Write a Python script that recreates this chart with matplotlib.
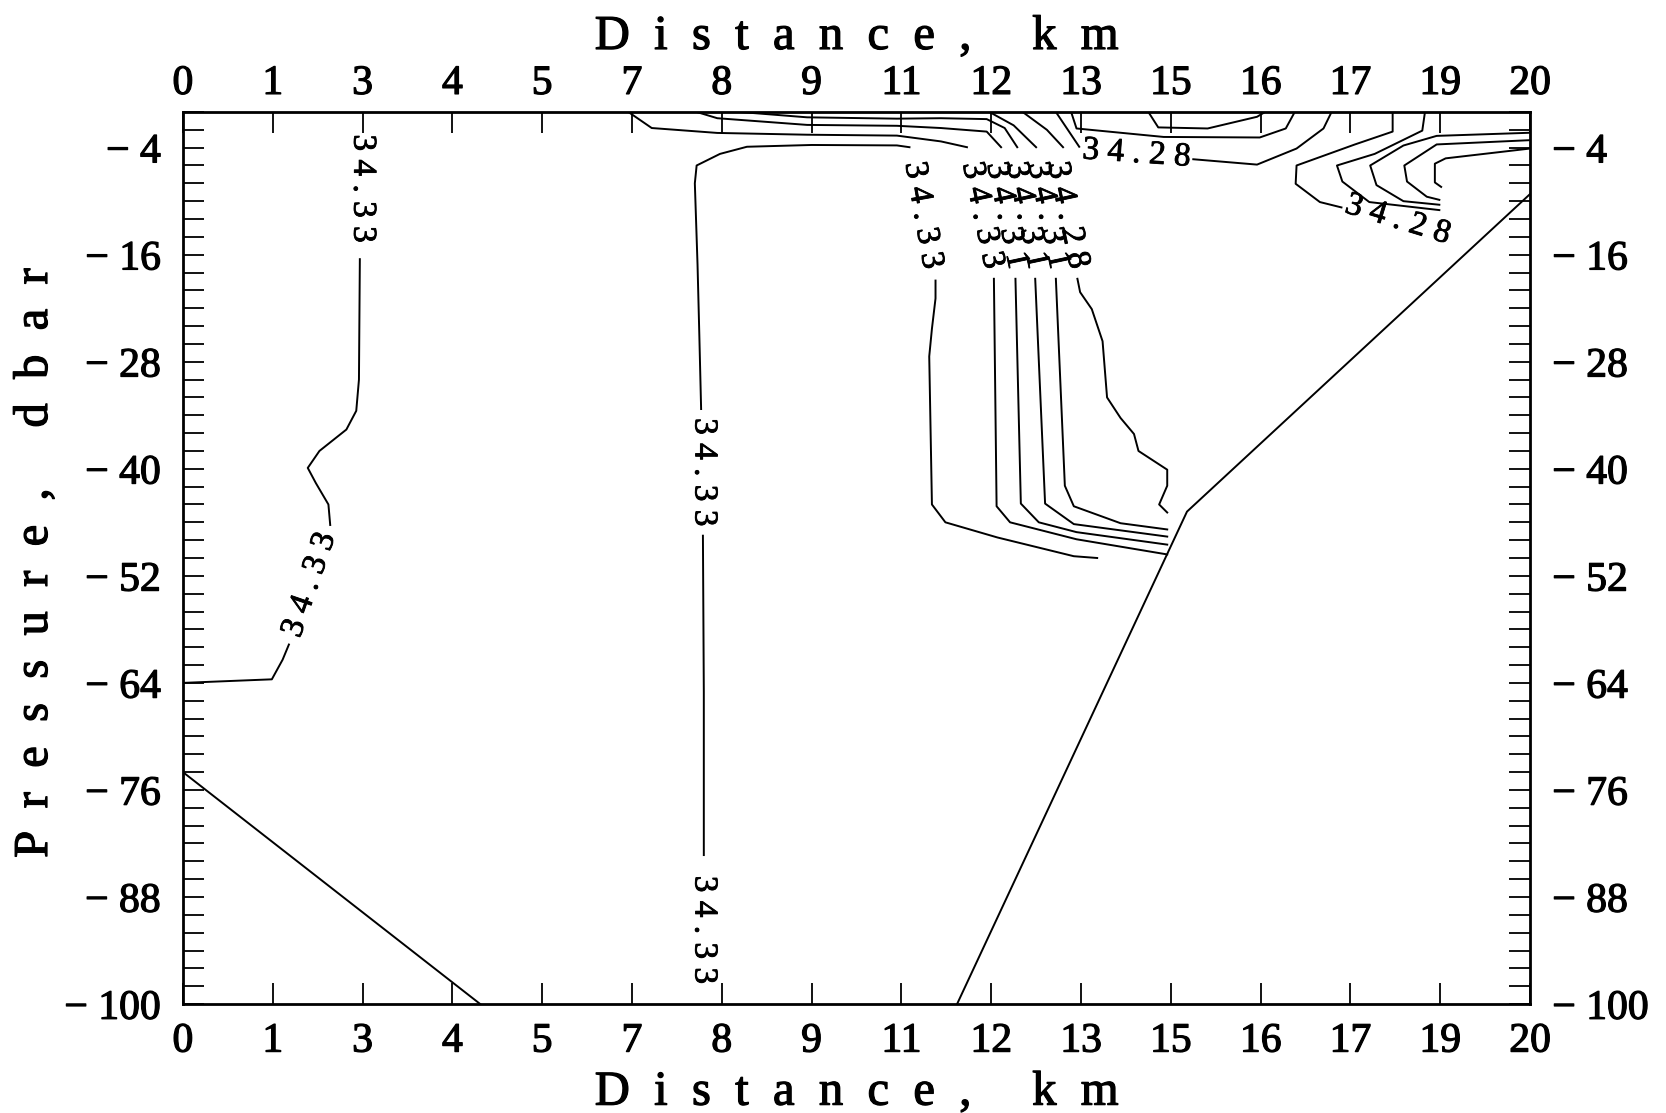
import numpy             as np
import matplotlib
matplotlib.use('Agg')
import matplotlib.pyplot     as plt
import matplotlib.patheffects as pe

from matplotlib.ticker import FixedLocator, MultipleLocator

FIG_SIZE    = (16.66, 11.13)
DPI         = 100
FONT        = 'Liberation Serif'
LINE_W      = 1.4
TICK_SIZE   = 30
LABEL_SIZE  = 35
CLABEL_SIZE = 24
nan         = np.nan
HEAVY       = [pe.withStroke(linewidth = 0.9, foreground = 'black')]

############################
# Axes data
############################
stationLabels  = ['0', '1', '3', '4', '5', '7', '8', '9', '11', '12', '13', '15', '16', '17', '19', '20']
pressureTicks  = [-4, -16, -28, -40, -52, -64, -76, -88, -100]

############################
# Bottom profile (station index, dbar)
############################
bottomLeftX  = [0.0, 3.31]
bottomLeftP  = [-74.0, -100.0]
bottomRightX = [8.62, 11.18, 15.0]
bottomRightP = [-100.0, -44.8, -9.2]

############################
# Salinity isolines (station index, dbar), nan = gap for a label
############################
west33X = [1.97, 1.96, 1.93, 1.82, 1.52, 1.39, 1.48, 1.62, 1.64, nan, 1.18, 1.11, 0.99, 0.0]
west33P = [-16.5, -30.0, -33.5, -35.6, -38.0, -39.9, -41.6, -44.0, -46.3, nan, -59.7, -61.4, -63.6, -64.0]

mid33X = [5.80, 5.80, 5.79, nan, 5.77, 5.75, 5.73, 5.70, 5.72, 5.98, 6.28, 7.00, 7.95, 8.09,
          nan, 8.38, 8.38, 8.34, 8.31, 8.34, 8.49, 9.07, 9.92, 10.18]
mid33P = [-83.3, -65.0, -47.5, nan, -33.3, -25.0, -17.1, -8.0, -6.0, -4.7, -3.9, -3.7, -3.75, -3.95,
          nan, -18.9, -20.9, -24.3, -27.4, -44.0, -46.0, -47.7, -49.8, -50.0]

lineAX = [4.96, 5.22, 5.95, 6.95, 7.95, 8.44, 8.73, nan, 9.03, 9.06, 9.21, 9.95, 10.96]
lineAP = [0.0, -1.8, -2.35, -2.55, -2.65, -3.3, -3.95, nan, -18.7, -44.2, -46.0, -47.9, -49.6]

lineBX = [5.72, 5.95, 6.95, 7.95, 8.44, 8.95, 9.11, nan, 9.27, 9.33, 9.53, 9.95, 10.96]
lineBP = [0.0, -0.7, -1.45, -1.55, -1.8, -2.2, -3.95, nan, -18.7, -43.9, -46.0, -47.1, -48.5]

lineCX = [6.20, 6.95, 7.95, 8.44, 8.95, 9.15, 9.29, nan, 9.49, 9.60, 9.92, 10.96]
lineCP = [0.0, -0.6, -0.75, -0.7, -0.8, -1.8, -3.95, nan, -18.7, -43.9, -46.2, -47.6]

lineDX = [8.98, 9.25, 9.50, nan, 9.72, 9.82, 9.92, 10.44, 10.96]
lineDP = [0.0, -1.5, -3.95, nan, -18.7, -41.9, -44.2, -46.1, -46.8]

lineEX = [9.35, 9.62, 9.80, nan, 9.96, 9.99, 10.12, 10.24, 10.29, 10.44, 10.59, 10.64, 10.96, 10.96, 10.87, 10.96]
lineEP = [0.0, -2.0, -3.95, nan, -18.7, -20.2, -22.1, -25.7, -32.0, -34.3, -36.1, -38.0, -40.1, -41.9, -44.0, -44.9]

surf28X = [9.72, 9.84, 9.98, nan, 11.25, 11.96, 12.40, 12.70, 12.79]
surf28P = [0.0, -1.8, -3.9, nan, -5.3, -5.9, -4.1, -1.85, 0.0]

cupAX = [10.75, 10.86, 11.41, 11.96, 12.05]
cupAP = [0.0, -1.73, -1.85, -0.54, 0.0]

cupBX = [9.89, 9.95, 10.92, 11.99, 12.28, 12.38]
cupBP = [0.0, -1.85, -2.8, -2.86, -1.85, 0.0]

east1X = [13.47, 13.47, 13.05, 12.40, 12.39, 12.66, 12.90]
east1P = [0.0, -2.2, -3.64, -6.0, -8.05, -10.1, -10.7]

east2X = [13.83, 13.80, 13.27, 12.85, 12.91, 13.21, 13.99]
east2P = [0.0, -2.09, -4.7, -6.0, -7.8, -10.1, -11.0]

east3X = [15.0, 13.96, 13.59, 13.22, 13.29, 13.59, 13.99]
east3P = [-2.33, -2.68, -3.76, -6.0, -8.2, -10.0, -10.4]

east4X = [15.0, 13.96, 13.60, 13.63, 13.85, 13.99]
east4P = [-3.16, -3.64, -6.0, -7.8, -9.5, -9.85]

east5X = [15.0, 14.06, 13.94, 13.94, 14.01]
east5P = [-4.1, -5.2, -5.8, -7.9, -8.4]

############################
# Isoline labels
############################
labelText = ['34.33', '34.33', '34.33', '34.33', '34.33', '34.33', '34.31', '34.31', '34.31', '34.28', '34.28', '34.28']
labelX    = [2.00, 1.41, 5.80, 5.80, 8.24, 8.90, 9.17, 9.39, 9.63, 9.85, 10.62, 13.53]
labelP    = [-8.6, -53.0, -40.4, -91.7, -11.6, -11.6, -11.6, -11.6, -11.6, -11.6, -4.7, -12.1]
labelRot  = [-90, 71, -90, -90, -80, -78, -78, -78, -78, -78, -4, -17]

isolines = [
  (west33X, west33P), (mid33X, mid33P),
  (lineAX, lineAP), (lineBX, lineBP), (lineCX, lineCP), (lineDX, lineDP), (lineEX, lineEP),
  (surf28X, surf28P), (cupAX, cupAP), (cupBX, cupBP),
  (east1X, east1P), (east2X, east2P), (east3X, east3P), (east4X, east4P), (east5X, east5P),
]


def spaced(text, gap = ' '):
  return gap.join(text)


#############################
# Figure                    #
#############################
fig = plt.figure(figsize = FIG_SIZE, dpi = DPI)
ax  = fig.add_axes([0.1098, 0.0979, 0.8086, 0.8015])

ax.plot(bottomLeftX,  bottomLeftP,  color = 'black', lw = LINE_W)
ax.plot(bottomRightX, bottomRightP, color = 'black', lw = LINE_W)

for xs, ps in isolines:
  ax.plot(xs, ps, color = 'black', lw = LINE_W)

for txt, x, p, rot in zip(labelText, labelX, labelP, labelRot):
  ax.text(x, p, spaced(txt), rotation = rot, ha = 'center', va = 'center',
          rotation_mode = 'anchor', fontsize = CLABEL_SIZE, family = FONT,
          path_effects = [pe.withStroke(linewidth = 0.6, foreground = 'black')])

ax.set_xlim(0, len(stationLabels) - 1)
ax.set_ylim(-100, 0)

ax.xaxis.set_major_locator(FixedLocator(range(len(stationLabels))))
ax.set_xticklabels(stationLabels)
ax.yaxis.set_major_locator(FixedLocator(pressureTicks))
ax.yaxis.set_minor_locator(MultipleLocator(2))
ax.set_yticklabels(['\u2212 ' + str(abs(v)) for v in pressureTicks])

ax.tick_params(axis = 'x', which = 'both', direction = 'in', top = True, labeltop = True,
               length = 15, width = 1.3, pad = 13, labelsize = TICK_SIZE)
ax.tick_params(axis = 'y', which = 'both', direction = 'in', right = True, labelright = True,
               length = 15, width = 1.3, pad = 16, labelsize = TICK_SIZE)

for tick in ax.xaxis.get_major_ticks() + ax.yaxis.get_major_ticks():
  for lab in (tick.label1, tick.label2):
    lab.set_family(FONT)
    lab.set_path_effects(HEAVY)

# top labels sit on their baseline, like the bottom ones hang from their cap line
for tick in ax.xaxis.get_major_ticks():
  tick.label2.set_va('baseline')

for spine in ax.spines.values():
  spine.set_linewidth(2.0)

fig.text(0.5141, 0.956,  spaced('Distance, km', '  '), ha = 'center', va = 'baseline',
         fontsize = LABEL_SIZE, family = FONT, path_effects = HEAVY)
fig.text(0.5141, 0.0075, spaced('Distance, km', '  '), ha = 'center', va = 'baseline',
         fontsize = LABEL_SIZE, family = FONT, path_effects = HEAVY)
fig.text(0.021,  0.494,  spaced('Pressure, dbar', '  '), ha = 'center', va = 'center',
         rotation = 90, fontsize = LABEL_SIZE, family = FONT, path_effects = HEAVY)

fig.savefig('out.png', dpi = DPI)
